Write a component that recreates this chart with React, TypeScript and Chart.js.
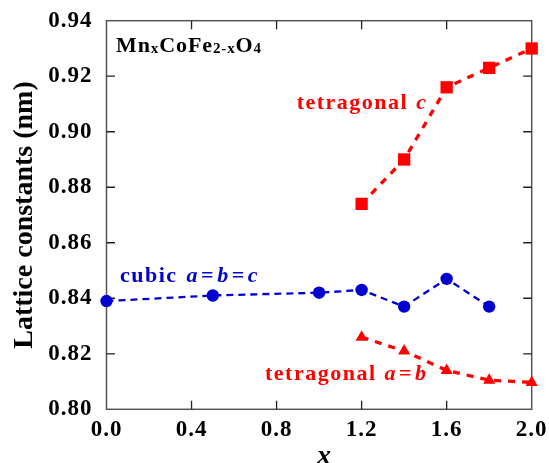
import React, { useEffect, useRef } from 'react';
import { Chart, registerables } from 'chart.js';
Chart.register(...registerables);

// ---- data ----
const xCubic = [0, 0.5, 1.0, 1.2, 1.4, 1.6, 1.8];
const cubicABC = [0.839, 0.841, 0.842, 0.843, 0.837, 0.847, 0.837];
const xTetra = [1.2, 1.4, 1.6, 1.8, 2.0];
const tetraC = [0.874, 0.890, 0.916, 0.923, 0.930];
const tetraAB = [0.826, 0.821, 0.814, 0.8105, 0.8097];
const xTicks = [0, 0.4, 0.8, 1.2, 1.6, 2.0];
const yTicks = [0.80, 0.82, 0.84, 0.86, 0.88, 0.90, 0.92, 0.94];

const BLUE = '#0000d0';
const RED = '#ff0000';
const FAM = '"Liberation Serif", "Times New Roman", serif';

type Seg = { t: string; size: number; italic?: boolean; dy?: number; gap?: number };

function drawRich(ctx: CanvasRenderingContext2D, segs: Seg[], x: number, y: number, color: string, spacing: number) {
  ctx.save();
  ctx.fillStyle = color;
  ctx.textBaseline = 'alphabetic';
  ctx.textAlign = 'left';
  (ctx as any).letterSpacing = spacing + 'px';
  let cx = x;
  for (const s of segs) {
    ctx.font = `${s.italic ? 'italic ' : ''}bold ${s.size}px ${FAM}`;
    ctx.fillText(s.t, cx, y + (s.dy || 0));
    cx += ctx.measureText(s.t).width + (s.gap || 0);
  }
  ctx.restore();
}

const zeroPad = (s: any) => {
  s.paddingTop = 0;
  s.paddingBottom = 0;
  s.paddingLeft = 0;
  s.paddingRight = 0;
};

const deco = {
  id: 'deco',
  beforeDraw(chart: any) {
    (chart.ctx as any).letterSpacing = '1px';
  },
  beforeDatasetsDraw(chart: any) {
    const ctx: CanvasRenderingContext2D = chart.ctx;
    const { left, right, top, bottom } = chart.chartArea;
    const xs = chart.scales.x;
    const ys = chart.scales.y;
    ctx.save();
    ctx.lineWidth = 1.5;
    ctx.strokeStyle = '#555';
    ctx.strokeRect(left, top, right - left, bottom - top);
    ctx.strokeStyle = '#222';
    ctx.lineWidth = 1.3;
    const L = 8.5;
    ctx.beginPath();
    xTicks.slice(1, -1).forEach((v) => {
      const p = xs.getPixelForValue(v);
      ctx.moveTo(p, bottom);
      ctx.lineTo(p, bottom - L);
      ctx.moveTo(p, top);
      ctx.lineTo(p, top + L);
    });
    yTicks.slice(1, -1).forEach((v) => {
      const p = ys.getPixelForValue(v);
      ctx.moveTo(left, p);
      ctx.lineTo(left + L, p);
      ctx.moveTo(right, p);
      ctx.lineTo(right - L, p);
    });
    ctx.stroke();
    ctx.restore();
  },
  afterDraw(chart: any) {
    const ctx: CanvasRenderingContext2D = chart.ctx;
    const xs = chart.scales.x;
    const ys = chart.scales.y;
    const { top, bottom, left, right } = chart.chartArea;
    const P = (x: number, y: number) => [xs.getPixelForValue(x), ys.getPixelForValue(y)];

    // formula
    let [px, py] = P(0.0447, 0.9287);
    drawRich(ctx, [
      { t: 'Mn', size: 22 },
      { t: 'x', size: 15, dy: 1 },
      { t: 'CoFe', size: 22 },
      { t: '2-x', size: 15, dy: 1 },
      { t: 'O', size: 22 },
      { t: '4', size: 15, dy: 1 },
    ], px, py, '#000', 0.9);

    [px, py] = P(0.8946, 0.9081);
    drawRich(ctx, [
      { t: 'tetragonal ', size: 22, gap: 1 },
      { t: 'c', size: 22, italic: true },
    ], px, py, RED, 1.5);

    [px, py] = P(0.0635, 0.846);
    drawRich(ctx, [
      { t: 'cubic ', size: 22, gap: 2 },
      { t: 'a', size: 22, italic: true, gap: 2 },
      { t: '=', size: 22, gap: 2 },
      { t: 'b', size: 22, italic: true, gap: 2 },
      { t: '=', size: 22, gap: 2 },
      { t: 'c', size: 22, italic: true },
    ], px, py, BLUE, 1.5);

    [px, py] = P(0.7455, 0.8106);
    drawRich(ctx, [
      { t: 'tetragonal ', size: 22, gap: 1 },
      { t: 'a', size: 22, italic: true, gap: 2 },
      { t: '=', size: 22, gap: 2 },
      { t: 'b', size: 22, italic: true },
    ], px, py, RED, 1.5);

    // axis titles
    ctx.save();
    (ctx as any).letterSpacing = '0px';
    ctx.fillStyle = '#000';
    ctx.font = `bold 28px ${FAM}`;
    ctx.textAlign = 'center';
    ctx.textBaseline = 'alphabetic';
    ctx.translate(31.5, (top + bottom) / 2);
    ctx.rotate(-Math.PI / 2);
    ctx.fillText('Lattice constants (nm)', 0, 0);
    ctx.restore();

    ctx.save();
    (ctx as any).letterSpacing = '0px';
    ctx.fillStyle = '#000';
    ctx.font = `italic bold 28px ${FAM}`;
    ctx.textAlign = 'center';
    ctx.textBaseline = 'alphabetic';
    ctx.fillText('x', (left + right) / 2 + 5, 464);
    ctx.restore();
  },
};

export default function App() {
  const ref = useRef<HTMLCanvasElement>(null);
  useEffect(() => {
    const canvas = ref.current!;
    const tickFont = { family: FAM, size: 23, weight: 'bold' as const };
    const chart = new Chart(canvas, {
      type: 'scatter',
      data: {
        datasets: [
          {
            data: xCubic.map((x, i) => ({ x, y: cubicABC[i] })),
            showLine: true,
            borderColor: BLUE,
            backgroundColor: BLUE,
            borderWidth: 2.3,
            borderDash: [7, 5],
            pointStyle: 'circle',
            pointRadius: 6.2,
            pointBorderWidth: 0,
            pointBackgroundColor: BLUE,
            clip: false as any,
          },
          {
            data: xTetra.map((x, i) => ({ x, y: tetraC[i] })),
            showLine: true,
            borderColor: RED,
            backgroundColor: RED,
            borderWidth: 3.3,
            borderDash: [7, 7],
            pointStyle: 'rect',
            pointRadius: 8.7,
            pointBorderWidth: 0,
            pointBackgroundColor: RED,
            clip: false as any,
          },
          {
            data: xTetra.map((x, i) => ({ x, y: tetraAB[i] })),
            showLine: true,
            borderColor: RED,
            backgroundColor: RED,
            borderWidth: 3.3,
            borderDash: [7, 7],
            pointStyle: 'triangle',
            pointRadius: 7,
            pointBorderWidth: 0,
            pointBackgroundColor: RED,
            clip: false as any,
          },
        ],
      },
      options: {
        responsive: false,
        animation: false,
        devicePixelRatio: 1,
        layout: { padding: { top: 20.7, right: 17.3, left: 0, bottom: 0 } },
        plugins: { legend: { display: false }, tooltip: { enabled: false } },
        scales: {
          x: {
            type: 'linear',
            min: 0,
            max: 2,
            afterBuildTicks: (s: any) => { s.ticks = xTicks.map((v) => ({ value: v })); },
            afterFit: (s: any) => { s.height = 53.7; zeroPad(s); },
            grid: { display: false, drawTicks: false },
            border: { display: false },
            ticks: {
              padding: 7,
              color: '#000',
              font: tickFont,
              maxRotation: 0,
              autoSkip: false,
              callback: (v: any) => Number(v).toFixed(1),
            },
          },
          y: {
            type: 'linear',
            min: 0.8,
            max: 0.94,
            afterBuildTicks: (s: any) => { s.ticks = yTicks.map((v) => ({ value: v })); },
            afterFit: (s: any) => { s.width = 106.5; zeroPad(s); },
            grid: { display: false, drawTicks: false },
            border: { display: false },
            ticks: {
              padding: 14,
              color: '#000',
              font: tickFont,
              autoSkip: false,
              callback: (v: any) => Number(v).toFixed(2),
            },
          },
        },
      },
      plugins: [deco as any],
    });
    return () => chart.destroy();
  }, []);
  return (
    <div style={{ position: 'fixed', left: 0, top: 0, width: 549, height: 463, background: '#fff' }}>
      <canvas ref={ref} width={549} height={463} style={{ width: 549, height: 463, display: 'block' }} />
    </div>
  );
}
